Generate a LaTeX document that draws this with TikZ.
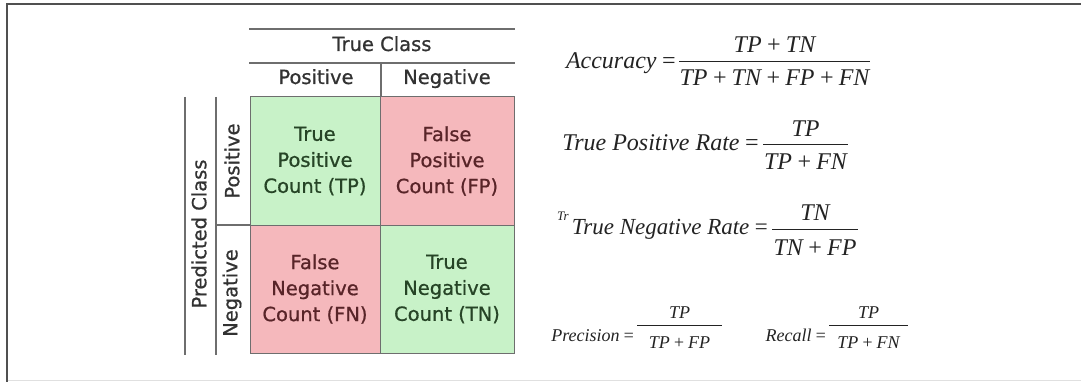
\documentclass[tikz,border=0pt]{standalone}
\usepackage{fontspec}
\setmainfont{Liberation Serif}
\newfontfamily\dv[FakeBold=0.8]{DejaVu Sans}
\definecolor{gcell}{RGB}{200,242,200}
\definecolor{rcell}{RGB}{245,184,188}
\definecolor{gtext}{RGB}{38,68,38}
\definecolor{rtext}{RGB}{88,36,40}
\definecolor{hdr}{RGB}{50,50,50}
\definecolor{lnc}{RGB}{110,110,110}
\definecolor{fml}{RGB}{35,35,35}
\definecolor{frame}{RGB}{80,80,80}
\begin{document}
\begin{tikzpicture}[x=1pt,y=-1pt,
  lbl/.style={inner sep=0pt, font=\dv\fontsize{19.5}{26}\selectfont, text=hdr, align=center},
  cellbox/.style={lbl, draw=lnc, line width=1pt, minimum height=128pt},
  gbox/.style={cellbox, fill=gcell, text=gtext},
  rbox/.style={cellbox, fill=rcell, text=rtext},
  rule/.style={draw=lnc, line width=1.6pt},
  thin/.style={draw=lnc, line width=1.2pt},
  big/.style={inner sep=0pt, font=\fontsize{24}{28}\selectfont\itshape, text=fml},
  small/.style={inner sep=0pt, font=\fontsize{18}{22}\selectfont\itshape, text=fml},
  fbar/.style={draw=fml, line width=1pt}]
\useasboundingbox (0,0) rectangle (1081,382);
\fill[white] (0,0) rectangle (1081,382);
% frame
\draw[draw=black!12, line width=1pt] (7,380) -- (1081,380);
\draw[draw=frame, line width=2.2pt] (7,382) -- (7,4) -- (1081,4);

% header
\draw[rule] (249,29) -- (515,29);
\draw[rule] (249,63) -- (515,63);
\draw[thin] (381,63) -- (381,97);
\node[lbl, anchor=base] (tc) at (382,51) {True Class};
\node[lbl, anchor=base] (hp) at (316,84) {Positive};
\node[lbl, anchor=base] (hn) at (447,84) {Negative};

% left labels
\draw[rule] (185,97) -- (185,355);
\draw[thin] (216,97) -- (216,355);
\draw[thin] (216,225) -- (250,225);
\node[lbl, rotate=90] (pc) at (199,234) {Predicted Class};
\node[lbl, rotate=90] (vp) at (232,161) {Positive};
\node[lbl, rotate=90] (vn) at (232,293) {Negative};

% matrix cells
\node[gbox, minimum width=130pt] (tp) at (315,161) {True\\Positive\\Count (TP)};
\node[rbox, minimum width=134pt] (fp) at (447,161) {False\\Positive\\Count (FP)};
\node[rbox, minimum width=130pt] (fn) at (315,289) {False\\Negative\\Count (FN)};
\node[gbox, minimum width=134pt] (tn) at (447,289) {True\\Negative\\Count (TN)};

% Accuracy
\node[big, anchor=base east] (acc) at (677,69) {Accuracy\,=};
\coordinate (a1) at (679,62); \coordinate (a2) at (870,62);
\draw[fbar] (a1) -- (a2);
\node[big, anchor=base] (accn) at (774.5,53) {TP\,+\,TN};
\node[big, anchor=base] (accd) at (774.5,86) {TP\,+\,TN\,+\,FP\,+\,FN};

% TPR
\node[big, anchor=base east] (tpr) at (760,151) {True Positive Rate\,=};
\coordinate (b1) at (763,145); \coordinate (b2) at (848,145);
\draw[fbar] (b1) -- (b2);
\node[big, anchor=base] (tprn) at (805.5,137) {TP};
\node[big, anchor=base] (tprd) at (805.5,170) {TP\,+\,FN};

% TNR
\node[inner sep=0pt, font=\fontsize{13}{14}\selectfont\itshape, text=fml, anchor=base west] (tr) at (557,220) {Tr};
\node[big, font=\fontsize{23}{27}\selectfont\itshape, anchor=base east] (tnr) at (769,234) {True Negative Rate\,=};
\coordinate (c1) at (772,229); \coordinate (c2) at (858,229);
\draw[fbar] (c1) -- (c2);
\node[big, anchor=base] (tnrn) at (815,220) {TN};
\node[big, anchor=base] (tnrd) at (815,255) {TN\,+\,FP};

% Precision
\node[small, anchor=base east] (pre) at (635,341) {Precision\,=};
\coordinate (d1) at (637,325); \coordinate (d2) at (722,325);
\draw[fbar] (d1) -- (d2);
\node[small, anchor=base] (pren) at (679.5,318) {TP};
\node[small, anchor=base] (pred) at (679.5,348) {TP\,+\,FP};

% Recall
\node[small, anchor=base east] (rec) at (827,341) {Recall\,=};
\coordinate (e1) at (829,325); \coordinate (e2) at (908,325);
\draw[fbar] (e1) -- (e2);
\node[small, anchor=base] (recn) at (868.5,318) {TP};
\node[small, anchor=base] (recd) at (868.5,348) {TP\,+\,FN};
\end{tikzpicture}
\end{document}
